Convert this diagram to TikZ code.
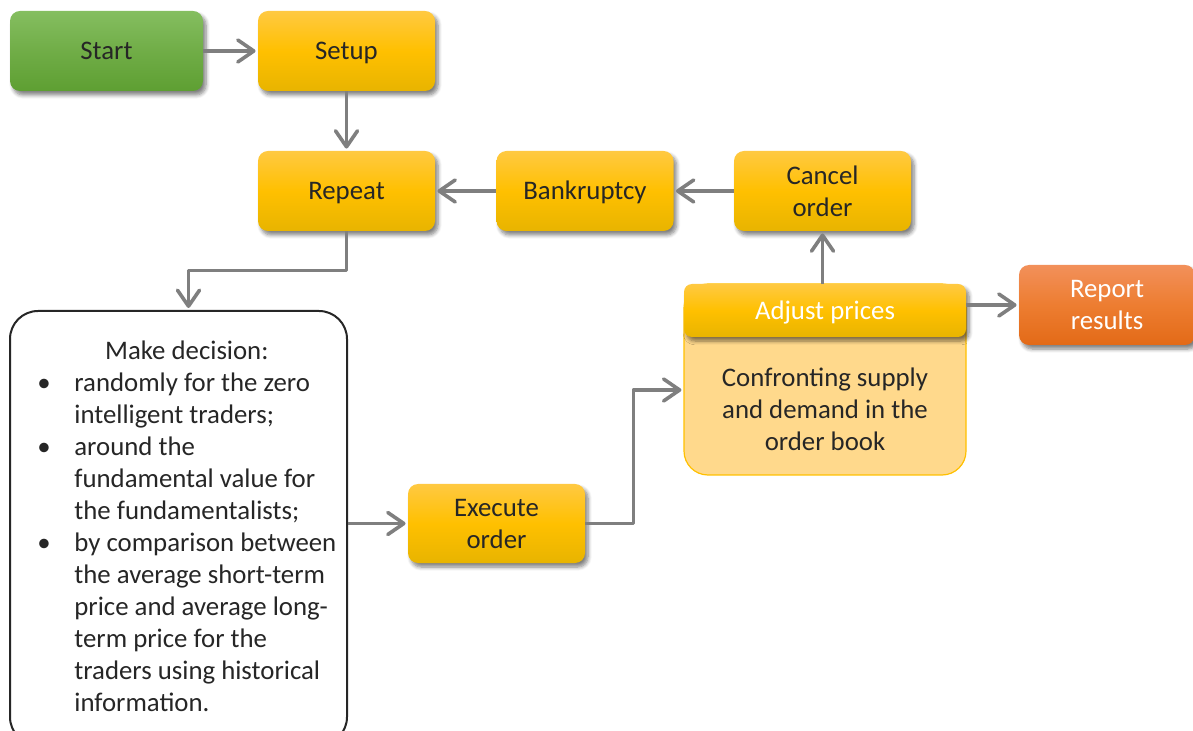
\documentclass[tikz,border=0pt]{standalone}
\usepackage{fontspec}
\setmainfont{Carlito}
\usetikzlibrary{arrows.meta,shadows.blur}
\definecolor{mydark}{HTML}{262626}
\definecolor{myarrow}{HTML}{7F7F7F}
\definecolor{yellowtop}{HTML}{FFC942}
\definecolor{yellowmid}{HTML}{FFC000}
\definecolor{yellowbot}{HTML}{E8B400}
\definecolor{greentop}{HTML}{85BE60}
\definecolor{greenmid}{HTML}{70AD47}
\definecolor{greenbot}{HTML}{5E9F32}
\definecolor{orangetop}{HTML}{F2905A}
\definecolor{orangemid}{HTML}{ED7D31}
\definecolor{orangebot}{HTML}{E36A17}
\definecolor{mybook}{HTML}{FFD98C}

\begin{document}
\begin{tikzpicture}[x=0.5pt,y=-0.5pt,
every node/.style={font=\fontsize{13.4}{16}\selectfont, text=mydark},
box/.style={rounded corners=5pt, minimum width=88.5pt, minimum height=40pt,
  align=center, inner sep=2pt,
  blur shadow={shadow xshift=1.5pt, shadow yshift=-2pt, shadow blur steps=6, shadow opacity=50}},
oneline/.style={text height=11.7pt, text depth=2.7pt},
yellowbox/.style={box, top color=yellowtop, bottom color=yellowbot, middle color=yellowmid},
greenbox/.style={box, top color=greentop, bottom color=greenbot, middle color=greenmid},
orangebox/.style={box, top color=orangetop, bottom color=orangebot, middle color=orangemid, text=white},
arr/.style={draw=myarrow, line width=1.8pt, line join=round,
  -{Straight Barb[length=8pt,width=11pt,round]}, shorten >=1pt}]
\useasboundingbox (0,0) rectangle (1193,731);

% decision box
\node[draw=mydark, line width=1pt, fill=white, rounded corners=14pt,
  minimum width=168.5pt, minimum height=217pt] (decision) at (178.5,528) {};
\node[anchor=north west, inner sep=0pt] (dectext) at (37,337) {%
\begin{tabular}{@{}l@{}l@{}}
\multicolumn{2}{c}{Make decision:}\\
\makebox[18.5pt][l]{\textbullet} & randomly for the zero\\
 & intelligent traders;\\
\makebox[18.5pt][l]{\textbullet} & around the\\
 & fundamental value for\\
 & the fundamentalists;\\
\makebox[18.5pt][l]{\textbullet} & by comparison between\\
 & the average short-term\\
 & price and average long-\\
 & term price for the\\
 & traders using historical\\
 & information.
\end{tabular}};

% process boxes
\node[greenbox, oneline, minimum width=96.5pt] (start) at (106.5,51) {Start};
\node[yellowbox, oneline] (setup) at (346.5,51) {Setup};
\node[yellowbox, oneline] (repeat) at (346.5,191) {Repeat};
\node[yellowbox, oneline] (bankrupt) at (585,191) {Bankruptcy};
\node[yellowbox] (cancel) at (822.5,191) {Cancel\\order};
\node[yellowbox, minimum height=39.5pt] (execute) at (496.5,523.5) {Execute\\order};
\node[orangebox, minimum width=88pt] (report) at (1107,305) {Report\\results};

% order book
\node[fill=mybook, draw=yellowmid, line width=0.6pt, rounded corners=12pt,
  minimum width=141pt, minimum height=95.5pt] (book) at (825,379.5) {};
\node[align=center] (booktext) at (825,409) {Confronting supply\\and demand in the\\order book};
\node[yellowbox, oneline, minimum width=141pt, minimum height=26.5pt, rounded corners=4pt,
  text=white] (adjust) at (825,310.5) {Adjust prices};

% connectors
\draw[arr] (start) -- (setup);
\draw[arr] (setup) -- (repeat);
\draw[arr] (bankrupt) -- (repeat);
\draw[arr] (cancel) -- (bankrupt);
\draw[arr] (repeat.south) -- ++(0,39) -| ([xshift=5pt]decision.north);
\draw[arr] (decision.east |- execute.west) -- (execute.west);
\draw[arr] (execute.east) -- ++(48,0) |- ([yshift=-5.25pt]book.west);
\draw[arr] (cancel.south |- adjust.north) -- (cancel.south);
\draw[arr] (adjust.east |- report.west) -- (report.west);
\end{tikzpicture}
\end{document}
